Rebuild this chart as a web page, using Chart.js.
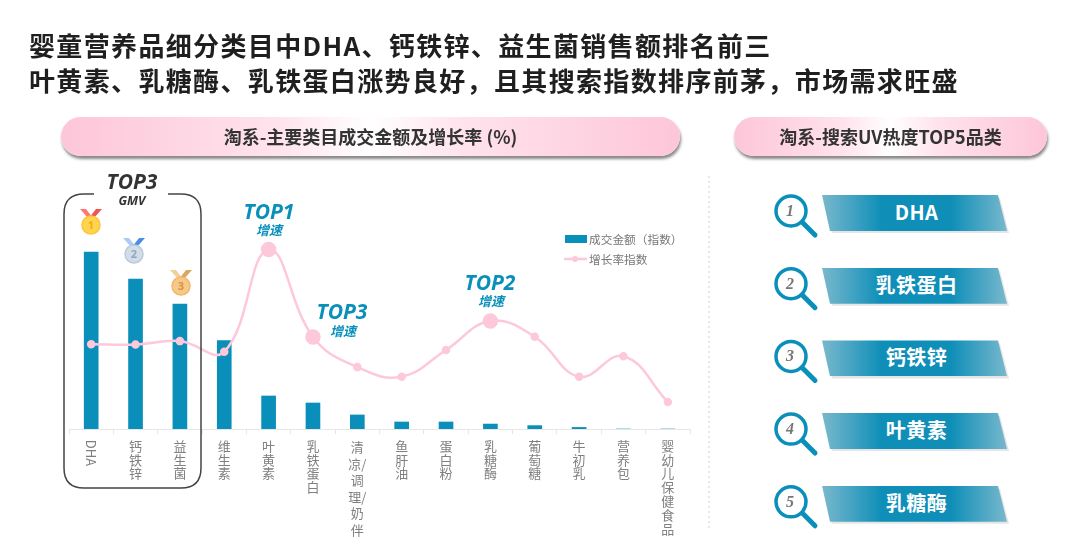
<!DOCTYPE html>
<html lang="zh">
<head>
<meta charset="utf-8">
<title>婴童营养品细分类目</title>
<script src="https://cdn.jsdelivr.net/npm/chart.js@4"></script>
<style>
    html, body { margin: 0; padding: 0; background: #fff; }
    body { width: 1080px; height: 545px; position: relative; overflow: hidden; font-family: "Noto Sans CJK SC", sans-serif; }
    #chart { position: absolute; left: 0; top: 0; }
    #overlay { position: absolute; left: 0; top: 0; }
    .abs { position: absolute; white-space: nowrap; }
    .headline { left: 29px; font-size: 26px; font-weight: 700; color: #1f1f1f; letter-spacing: 1.35px; line-height: 34px; }
    .pill {
        top: 117px; height: 39px; line-height: 39px; border-radius: 20px; text-align: center;
        font-size: 18px; font-weight: 700; color: #333;
        background: linear-gradient(90deg, #fdc6d9 0%, #ffe3ec 35%, #ffffff 50%, #ffe3ec 65%, #fdc6d9 100%);
        box-shadow: 1px 3px 3px rgba(70, 70, 70, 0.65);
    }
    .top-big { font-family: "Open Sans", sans-serif; font-style: italic; font-weight: 700; font-size: 21px; transform: translateX(-50%); color: #0a8fbb; line-height: 22px; }
    .top-small { font-style: italic; font-weight: 700; font-size: 13px; transform: translateX(-50%); color: #0a8fbb; line-height: 14px; }
    .dark { color: #333; }
    .legend-text { font-size: 11.7px; color: #777; line-height: 14px; }
    .legend-bar { left: 565px; top: 235px; width: 22px; height: 8px; background: #0a8fbb; }
    .banner {
        left: 822px; width: 185px; height: 36px; line-height: 33px; text-align: center; padding-left: 4px; box-sizing: border-box;
        clip-path: polygon(0 0, 176px 0, 100% 100%, 8px 100%);
        background: linear-gradient(90deg, #79b8cd 0%, #0f8fb8 32%, #0f8fb8 70%, #79b8cd 100%);
        color: #fff; font-size: 20px; font-weight: 700; letter-spacing: 0.5px;
    }
</style>
</head>
<body>
<canvas id="chart" width="1080" height="545"></canvas>
<svg id="overlay" width="1080" height="545" xmlns="http://www.w3.org/2000/svg"></svg>
<script>
// ========================================
// DATA
// ========================================
const categories = ['DHA', '钙铁锌', '益生菌', '维生素', '叶黄素', '乳铁蛋白', '清凉/调理/奶伴', '鱼肝油', '蛋白粉', '乳糖酶', '葡萄糖', '牛初乳', '营养包', '婴幼儿保健食品'];
const salesIndex = [68, 57.7, 48, 34, 12.7, 10, 5.4, 2.7, 2.7, 1.9, 1.3, 0.6, 0, 0];
const growthIndex = [32.6, 32.5, 33.8, 29.7, 69, 35.4, 23.8, 20.1, 30.4, 41.5, 35.5, 20.1, 28, 10.4];
const highlighted = [4, 5, 9];
const legendNames = ['成交金额（指数）', '增长率指数'];
const searchTop5 = ['DHA', '乳铁蛋白', '钙铁锌', '叶黄素', '乳糖酶'];

const BLUE = '#0a8fbb';
const PINK = '#fdc9da';

// ========================================
// TICK LABELS
// ========================================
function stackLabel(label) {
    if (label === 'DHA') return '';               // drawn rotated by the plugin below
    if (label.indexOf('/') >= 0) return ['清', '凉/', '调', '理/', '奶', '伴'];
    return label.split('');
}

const rotatedDha = {
    id: 'rotatedDha',
    afterDraw(chart) {
        const x = chart.scales.x.getPixelForValue(0);
        const c = chart.ctx;
        c.save();
        c.translate(x, 453);
        c.rotate(Math.PI / 2);
        c.fillStyle = '#808080';
        c.font = '13px "Noto Sans CJK SC"';
        c.textAlign = 'center';
        c.textBaseline = 'middle';
        c.fillText(categories[0], 0, 0);
        c.restore();
    }
};

// ========================================
// CHART
// ========================================
new Chart(document.getElementById('chart').getContext('2d'), {
    type: 'bar',
    data: {
        labels: categories,
        datasets: [
            {
                type: 'line',
                label: legendNames[1],
                data: growthIndex,
                borderColor: PINK,
                backgroundColor: PINK,
                borderWidth: 2.5,
                tension: 0.42,
                pointRadius: ctx => highlighted.includes(ctx.dataIndex) ? 6.5 : 3,
                order: 0
            },
            {
                label: legendNames[0],
                data: salesIndex,
                backgroundColor: BLUE,
                barThickness: 14,
                order: 1
            }
        ]
    },
    plugins: [rotatedDha],
    options: {
        responsive: false,
        animation: false,
        layout: { padding: { left: 69, right: 390, top: 169, bottom: 0 } },
        plugins: { legend: { display: false }, tooltip: { enabled: false } },
        scales: {
            x: {
                afterFit(scale) { scale.height = 116; },
                grid: { drawOnChartArea: false, color: '#e6e6e6', tickLength: 5 },
                border: { color: '#e6e6e6' },
                ticks: {
                    autoSkip: false,
                    maxRotation: 0,
                    padding: 5,
                    color: '#808080',
                    font: ctx => ({
                        family: '"Noto Sans CJK SC"',
                        size: 13,
                        lineHeight: ctx.index === 6 ? 1.27 : 1.06
                    }),
                    callback(value) { return stackLabel(this.getLabelForValue(value)); }
                }
            },
            y: { display: false, min: 0, max: 100 }
        }
    }
});

// ========================================
// HTML TEXT AND DECORATION
// ========================================
function addDiv(className, text, css) {
    const d = document.createElement('div');
    d.className = 'abs ' + className;
    d.textContent = text;
    Object.assign(d.style, css || {});
    document.body.appendChild(d);
    return d;
}

addDiv('headline', '婴童营养品细分类目中DHA、钙铁锌、益生菌销售额排名前三', { top: '28px' });
addDiv('headline', '叶黄素、乳糖酶、乳铁蛋白涨势良好，且其搜索指数排序前茅，市场需求旺盛', { top: '63px' });

addDiv('pill', '淘系-主要类目成交金额及增长率 (%)', { left: '61px', width: '619px' });
addDiv('pill', '淘系-搜索UV热度TOP5品类', { left: '734px', width: '313px' });

addDiv('top-big dark', 'TOP3', { left: '132px', top: '170px' });
addDiv('top-small dark', 'GMV', { left: '132px', top: '194px', fontFamily: '"Open Sans"', fontSize: '12.5px' });
addDiv('top-big', 'TOP1', { left: '269px', top: '200px' });
addDiv('top-small', '增速', { left: '269px', top: '223px' });
addDiv('top-big', 'TOP3', { left: '342px', top: '300px' });
addDiv('top-small', '增速', { left: '343px', top: '324px' });
addDiv('top-big', 'TOP2', { left: '490px', top: '271px' });
addDiv('top-small', '增速', { left: '491px', top: '294px' });

addDiv('legend-bar', '');
addDiv('legend-text', legendNames[0], { left: '589px', top: '232px' });
addDiv('legend-text', legendNames[1], { left: '589px', top: '252px' });

const svgParts = [];
// bracket around the top 3
svgParts.push('<path d="M94 194 H84 Q64 194 64 214 V468 Q64 488 84 488 H181 Q201 488 201 468 V214 Q201 194 181 194 H168" fill="none" stroke="#444" stroke-width="1.5"/>');
// dotted divider
svgParts.push('<line x1="709" y1="176" x2="709" y2="530" stroke="#d0d0d0" stroke-width="1" stroke-dasharray="2 3"/>');
// legend line sample
svgParts.push('<line x1="564" y1="259" x2="587" y2="259" stroke="' + PINK + '" stroke-width="2.5"/><circle cx="575" cy="259" r="3" fill="' + PINK + '"/>');

// medals
function medal(cx, cy, ribbonA, ribbonB, face, rim, num, numColor) {
    const top = cy - 16;
    return '<path d="M' + (cx - 11) + ' ' + top + ' h6 l7 9 h-5 z" fill="' + ribbonA + '"/>' +
        '<path d="M' + (cx + 11) + ' ' + top + ' h-6 l-7 9 h5 z" fill="' + ribbonB + '"/>' +
        '<circle cx="' + cx + '" cy="' + cy + '" r="9" fill="' + face + '" stroke="' + rim + '" stroke-width="1.5"/>' +
        '<text x="' + cx + '" y="' + (cy + 4) + '" font-size="11" font-weight="700" text-anchor="middle" fill="' + numColor + '" font-family="Open Sans">' + num + '</text>';
}
svgParts.push(medal(91, 225, '#f77', '#e55', '#ffd54d', '#ffc53a', '1', '#f5a623'));
svgParts.push(medal(134, 254, '#a9cdf5', '#4a90e2', '#d3dde8', '#bccbdb', '2', '#8fa6c0'));
svgParts.push(medal(181, 286, '#f2d09a', '#d9a860', '#f7c987', '#f0b870', '3', '#d9904a'));

// magnifiers and banners
searchTop5.forEach((name, i) => {
    const rowTop = 195 + i * 72.7;
    const cx = 791;
    const cy = rowTop + 16;
    addDiv('banner', name, { top: rowTop + 'px' });
    svgParts.push('<polygon points="824,' + (rowTop + 3) + ' 1000,' + (rowTop + 3) + ' 1009,' + (rowTop + 38) + ' 832,' + (rowTop + 38) + '" fill="#000" opacity="0.1"/>');
    svgParts.push('<circle cx="' + cx + '" cy="' + cy + '" r="15" fill="#fff" stroke="' + BLUE + '" stroke-width="3.5"/>');
    svgParts.push('<line x1="' + (cx + 12) + '" y1="' + (cy + 12) + '" x2="' + (cx + 24) + '" y2="' + (cy + 24) + '" stroke="' + BLUE + '" stroke-width="5" stroke-linecap="round"/>');
    svgParts.push('<text x="' + (cx - 1) + '" y="' + (cy + 5) + '" font-size="16" font-style="italic" font-weight="700" text-anchor="middle" fill="#777" font-family="Liberation Serif">' + (i + 1) + '</text>');
});
document.getElementById('overlay').innerHTML = svgParts.join('');
</script>
</body>
</html>
